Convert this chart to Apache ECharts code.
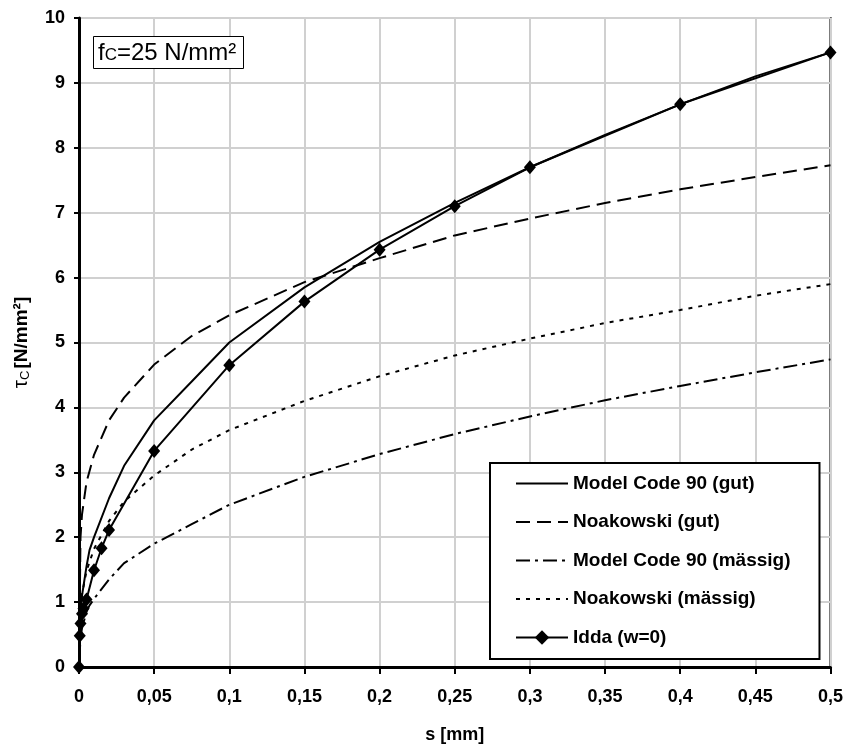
<!DOCTYPE html>
<html>
<head>
<meta charset="utf-8">
<script src="https://cdn.jsdelivr.net/npm/echarts@6/dist/echarts.min.js"></script>
<style>
html,body{margin:0;padding:0;background:#fff;}
#chart{width:846px;height:749px;}
</style>
</head>
<body>
<div id="chart"></div>
<script>
// ---- data ----
var xTickLabels = ['0','0,05','0,1','0,15','0,2','0,25','0,3','0,35','0,4','0,45','0,5'];
var yTickLabels = ['0','1','2','3','4','5','6','7','8','9','10'];

var seriesNames = ['Model Code 90 (gut)', 'Noakowski (gut)', 'Model Code 90 (mässig)', 'Noakowski (mässig)', 'Idda (w=0)'];

var sMC = [0, 0.001, 0.002, 0.005, 0.007, 0.01, 0.02, 0.03, 0.05, 0.075, 0.1, 0.15, 0.2, 0.25, 0.3, 0.35, 0.4, 0.45, 0.5];
var tauMCgut = [0, 0.85, 1.1, 1.55, 1.8, 2.0, 2.6, 3.1, 3.8, 4.4, 5.0, 5.85, 6.55, 7.15, 7.7, 8.2, 8.67, 9.1, 9.47];
var tauMCmaessig = [0, 0.45, 0.6, 0.85, 0.95, 1.05, 1.35, 1.6, 1.9, 2.2, 2.5, 2.93, 3.28, 3.59, 3.86, 4.11, 4.33, 4.54, 4.74];

var sNoak = [0, 0.001, 0.002, 0.005, 0.01, 0.02, 0.03, 0.05, 0.075, 0.1, 0.15, 0.2, 0.25, 0.3, 0.35, 0.4, 0.45, 0.5];
var tauNoakGut = [0, 2.0, 2.35, 2.85, 3.27, 3.8, 4.15, 4.66, 5.1, 5.42, 5.93, 6.3, 6.65, 6.91, 7.15, 7.36, 7.55, 7.73];
var tauNoakMaessig = [0, 0.92, 1.12, 1.48, 1.82, 2.25, 2.55, 2.95, 3.35, 3.65, 4.1, 4.48, 4.8, 5.06, 5.3, 5.5, 5.72, 5.9];

var sIdda = [0, 0.0005, 0.001, 0.002, 0.003, 0.005, 0.01, 0.015, 0.02, 0.05, 0.1, 0.15, 0.2, 0.25, 0.3, 0.4, 0.5];
var tauIdda = [0, 0.48, 0.67, 0.82, 0.9, 1.04, 1.49, 1.83, 2.11, 3.33, 4.65, 5.63, 6.43, 7.1, 7.7, 8.67, 9.47];

// ---- build ----
function pairs(xs, ys){ return xs.map(function(x,i){ return [x, ys[i]]; }); }
var FONT = '"Liberation Sans", Arial, Helvetica, sans-serif';

var chart = echarts.init(document.getElementById('chart'), null, {renderer:'canvas'});
var lineBase = {type:'line', symbol:'none', smooth:false, animation:false, z:3};

var legendData = seriesNames.map(function(n, i){
  return i < 4 ? {name:n, itemStyle:{opacity:0}} : {name:n};
});

var option = {
  backgroundColor:'#fff',
  animation:false,
  textStyle:{fontFamily:FONT},
  title:{
    left:93, top:31,
    text:'{a|f}{b|C}{a|=25 N/mm²}',
    borderColor:'#000', borderWidth:1, backgroundColor:'#fff',
    padding:[5,7,4,5],
    textStyle:{
      fontWeight:'normal',
      rich:{
        a:{fontFamily:FONT, fontSize:24, fontWeight:'normal', color:'#000', lineHeight:29, verticalAlign:'bottom'},
        b:{fontFamily:FONT, fontSize:17, fontWeight:'normal', color:'#000', lineHeight:29, verticalAlign:'bottom', padding:[0,0,1,0]}
      }
    }
  },
  grid:{left:79, right:14, top:18, bottom:81, show:true, borderColor:'#000', borderWidth:2, backgroundColor:'transparent'},
  legend:{
    orient:'vertical', left:490, top:463,
    padding:[11,29,12,25],
    itemWidth:52, itemHeight:18, itemGap:19.5,
    backgroundColor:'#fff', borderColor:'#000', borderWidth:2,
    textStyle:{fontFamily:FONT, fontSize:19, fontWeight:'bold', color:'#000'},
    data:legendData,
    lineStyle:{width:2}
  },
  xAxis:{
    type:'value', min:0, max:0.5, interval:0.05,
    name:'s [mm]', nameLocation:'middle', nameGap:59,
    nameTextStyle:{fontFamily:FONT, fontSize:18, fontWeight:'bold', color:'#000'},
    axisLine:{show:true, onZero:false, lineStyle:{color:'#000', width:3}},
    axisTick:{show:true, length:7, lineStyle:{color:'#000', width:2}},
    axisLabel:{margin:21, fontFamily:FONT, fontSize:18, fontWeight:'bold', color:'#000',
      formatter:function(v, i){ return xTickLabels[Math.round(v/0.05)]; }},
    splitLine:{show:true, lineStyle:{color:'#d0d0d0', width:2}}
  },
  yAxis:{
    type:'value', min:0, max:10, interval:1,
    name:'{t|τ}{c|C}{u|[N/mm²]}', nameLocation:'middle', nameGap:47, nameRotate:90,
    nameTextStyle:{
      rich:{
        t:{fontFamily:FONT, fontSize:21, color:'#000'},
        c:{fontFamily:FONT, fontSize:13, color:'#000', verticalAlign:'bottom', padding:[0,2,0,0]},
        u:{fontFamily:FONT, fontSize:19, fontWeight:'bold', color:'#000'}
      }
    },
    axisLine:{show:true, onZero:false, lineStyle:{color:'#000', width:3}},
    axisTick:{show:true, length:5, lineStyle:{color:'#000', width:2}},
    axisLabel:{margin:14, fontFamily:FONT, fontSize:18, fontWeight:'bold', color:'#000',
      formatter:function(v, i){ return yTickLabels[Math.round(v)]; }},
    splitLine:{show:true, lineStyle:{color:'#d0d0d0', width:2}}
  },
  series:[
    Object.assign({}, lineBase, {name:seriesNames[0], data:pairs(sMC, tauMCgut),
      lineStyle:{color:'#000', width:2, type:'solid'}, itemStyle:{color:'#000'}}),
    Object.assign({}, lineBase, {name:seriesNames[1], data:pairs(sNoak, tauNoakGut),
      lineStyle:{color:'#000', width:2, type:[14,7]}, itemStyle:{color:'#000'}}),
    Object.assign({}, lineBase, {name:seriesNames[2], data:pairs(sMC, tauMCmaessig),
      lineStyle:{color:'#000', width:2, type:[14,5,3,5]}, itemStyle:{color:'#000'}}),
    Object.assign({}, lineBase, {name:seriesNames[3], data:pairs(sNoak, tauNoakMaessig),
      lineStyle:{color:'#000', width:2, type:[4,6]}, itemStyle:{color:'#000'}}),
    Object.assign({}, lineBase, {name:seriesNames[4], data:pairs(sIdda, tauIdda),
      symbol:'diamond', symbolSize:[12,14], showSymbol:true, clip:false, z:4,
      lineStyle:{color:'#000', width:2, type:'solid'}, itemStyle:{color:'#000'}})
  ]
};
chart.setOption(option);
</script>
</body>
</html>
